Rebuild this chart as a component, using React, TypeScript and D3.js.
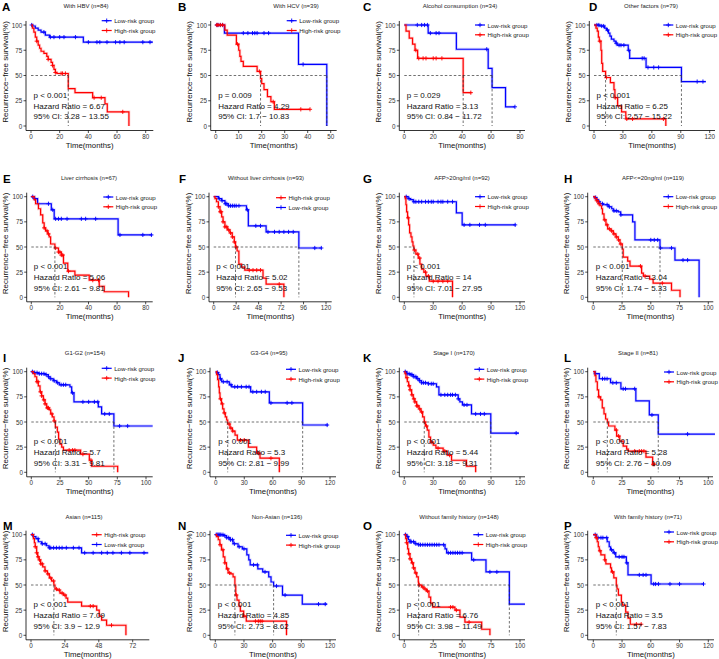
import * as d3 from 'd3';

type Step = [number, number];

const W = 719;
const H = 659;
const FONT = '"Liberation Sans", Arial, Helvetica, sans-serif';
const BLUE = '#0000FF';
const RED = '#FF0000';

// ---- data: survival steps [time(months), survival %] and censor times ----
const A_LOW: Step[] = [[0, 100], [1, 99], [3, 97], [5, 95], [7, 93], [10, 90], [13, 88], [36.5, 83], [85, 83]];
const A_LOW_C = [0.5, 9, 13.5, 16, 20, 23, 31, 40, 46, 48, 53, 59, 62, 65, 78, 83];
const A_HIGH: Step[] = [[0, 100], [1, 97], [2, 93], [3, 88], [4, 84], [5, 80], [6, 77], [7, 74], [9, 72], [11, 69], [12, 66], [14, 63], [15, 60], [16, 56], [17, 53], [18, 52], [26, 37], [30.7, 33], [43, 28], [51.6, 22], [53.2, 14], [68.3, 0]];
const A_HIGH_C = [4, 12, 15, 17, 21, 22, 24, 44, 49, 64];

const B_LOW: Step[] = [[0, 100], [3.8, 92], [36, 61], [48.3, 0]];
const B_LOW_C = [0.5, 1, 2, 3, 12, 14, 16, 17, 18, 21, 23, 38];
const B_HIGH: Step[] = [[0, 100], [4, 95], [5, 90], [9, 81], [10, 75], [10.5, 69], [11, 64], [12, 59], [18, 54], [19.5, 47], [20, 42], [21, 36], [22.5, 29], [24, 24], [25.5, 16.5], [41, 16.5]];
const B_HIGH_C = [0.5, 1, 2, 3, 9.5, 19, 25, 37, 41];

const C_LOW: Step[] = [[0, 100], [16.5, 92], [36, 76], [58, 57], [60.7, 38], [70, 19], [76.5, 19]];
const C_LOW_C = [9, 12, 14, 16, 18, 22, 24, 57, 76.5];
const C_HIGH: Step[] = [[0, 100], [1.2, 94], [3.4, 87], [5.7, 81], [7.4, 75], [9.2, 67], [40.7, 33], [46.4, 33]];
const C_HIGH_C = [8, 10, 13, 15, 20, 22, 26, 46];

const D_LOW: Step[] = [[0, 100], [6, 99], [11, 97], [13, 95], [15, 92], [16.5, 89], [18, 86], [20.7, 84], [22.7, 82], [24, 80], [35.5, 75], [37, 67], [54, 58], [90.7, 44], [116, 44]];
const D_LOW_C = [3, 5, 8, 10, 14, 23, 26, 28, 31, 36, 50, 52, 56, 62, 67, 107, 113];
const D_HIGH: Step[] = [[0, 100], [2, 97], [3.4, 94], [4.5, 88], [5.5, 84], [7.2, 75], [8, 62], [9, 54], [12, 48], [17, 43], [20.7, 36], [21.7, 28], [24.5, 20], [28.6, 14], [33, 7], [74.5, 0]];
const D_HIGH_C = [6, 13, 22, 34, 40, 72];

const E_LOW: Step[] = [[0, 100], [2, 98], [4.4, 93], [14, 87], [16, 78], [60.7, 62], [84.6, 62]];
const E_LOW_C = [1, 2.5, 12, 15, 17, 19, 21, 25, 35, 38, 45, 62, 78, 84];
const E_HIGH: Step[] = [[0, 100], [2, 97], [3, 93], [5, 88], [6.5, 82], [8, 74], [9, 69], [10, 66], [11.5, 63], [12.5, 60], [13.5, 53], [16.5, 49], [19, 45], [21, 42], [22.5, 34], [25.5, 26], [30.5, 22], [40.5, 17], [47.5, 11], [51, 5.5], [68, 0]];
const E_HIGH_C = [9, 11, 12, 17, 19, 20, 21, 22, 26, 43, 47];

const F_LOW: Step[] = [[0, 100], [5, 98], [8.5, 96], [12, 93], [15.5, 91], [35, 87], [37, 71], [56, 65], [91, 49], [115.5, 49]];
const F_LOW_C = [6, 9, 12.5, 14, 16, 18, 20, 22, 24, 27, 36, 45, 50, 58, 65, 70, 75, 80, 85, 108, 115];
const F_HIGH: Step[] = [[0, 100], [1.4, 98], [3, 95], [5, 90], [6.7, 85], [8.5, 80], [10, 75], [12, 70], [14.5, 67], [17.3, 64], [19.8, 60], [22, 55], [23.3, 50], [25, 46], [26.9, 33], [29.7, 30], [33.2, 27], [52.7, 19], [56, 13], [75, 0]];
const F_HIGH_C = [5, 7, 8, 10, 12, 14, 16, 18, 20, 22, 24, 38, 42, 46, 50, 70];

const G_LOW: Step[] = [[0, 100], [4, 98], [6.5, 97], [9.3, 95], [54, 84], [60, 72], [115.5, 72]];
const G_LOW_C = [2, 5, 10, 12, 15, 18, 22, 25, 28, 30, 35, 38, 40, 45, 50, 62, 68, 78, 84, 115];
const G_HIGH: Step[] = [[0, 100], [1, 98], [1.7, 92], [2.4, 85], [3.4, 79], [4.5, 72], [5.5, 64], [6.9, 60], [8, 55], [9, 51], [10, 47], [12, 43], [14.5, 39], [16.2, 33], [18, 28], [20.3, 25], [22.4, 21], [25.9, 16], [50, 0]];
const G_HIGH_C = [4, 10.5, 14, 16, 22, 25, 30, 35, 40, 45];

const H_LOW: Step[] = [[0, 100], [1.4, 99], [2.9, 97], [4.3, 95], [5.8, 93], [8.7, 92], [13, 90], [16, 88], [17.4, 86], [21.7, 85], [23.8, 82], [34.2, 75], [36.2, 57], [58, 49], [71, 37], [92, 0]];
const H_LOW_C = [2, 5, 8, 12, 14, 18, 20, 24, 50, 53, 56, 58.5, 68, 78, 82];
const H_HIGH: Step[] = [[0, 100], [1.4, 98], [3, 96], [4.3, 93], [5.8, 91], [7.2, 88], [8, 83], [9.3, 77], [11, 72], [12.5, 68], [15.4, 66], [17.4, 63], [19.7, 60], [21.7, 57], [23.2, 53], [25.2, 48], [26, 40], [29.9, 36], [31.9, 31], [42, 24], [43.5, 21], [49, 18], [52, 14], [68, 7], [75.4, 0]];
const H_HIGH_C = [3, 5, 10, 12, 14, 16, 18, 20, 22, 24, 41, 45, 60];

const I_LOW: Step[] = [[0, 100], [1.7, 99], [6, 98], [12, 97], [14.8, 95], [16.3, 93], [19.2, 91], [22, 89], [24.4, 87], [33.7, 85], [35.2, 79], [37.2, 70], [58.4, 65], [61.3, 58], [72, 46], [105.8, 46]];
const I_LOW_C = [1, 3, 5, 7, 9, 11, 13, 15, 17, 20, 23, 26, 28, 30, 36, 45, 50, 55, 58, 64, 68, 77, 84];
const I_HIGH: Step[] = [[0, 100], [1.7, 98], [3.2, 95], [4.7, 90], [6.1, 86], [7.6, 80], [9, 76], [10.5, 72], [12, 68], [13.4, 64], [15.7, 62], [16.9, 58], [18.3, 55], [19.8, 51], [21, 45], [22.7, 40], [23.8, 33], [25, 28], [26.5, 25], [28, 22], [43, 18], [50.6, 12], [52.6, 6], [75.3, 0]];
const I_HIGH_C = [5, 6, 8, 9, 11, 12, 14, 15, 18, 20, 33, 36, 38, 45, 52];

const J_LOW: Step[] = [[0, 100], [1, 99], [2.8, 97], [4.5, 93], [6.3, 90], [14.3, 87], [16.8, 85], [36.7, 80], [56.3, 69], [91.3, 47], [118, 47]];
const J_LOW_C = [2, 5, 8, 12, 16, 20, 23, 27, 32, 35, 39, 43, 48, 52, 58, 75, 80, 117];
const J_HIGH: Step[] = [[0, 100], [1, 97], [2, 92], [3.1, 85], [3.8, 79], [4.5, 73], [6, 68], [7.3, 63], [8.7, 59], [10.1, 55], [11.5, 52], [12.6, 48], [15, 44], [17.5, 41], [20.3, 37], [22.7, 32], [34.3, 25], [43, 19], [46.5, 14], [66.8, 0]];
const J_HIGH_C = [5, 7, 9, 14, 16, 18, 26, 30, 45, 58];

const K_LOW: Step[] = [[0, 100], [2.4, 98], [5.9, 97], [9.3, 95], [12.8, 93], [15.5, 91], [17.9, 89], [24.8, 88], [33.4, 85], [35.9, 77], [55.9, 73], [57.6, 70], [60.3, 67], [69.7, 58], [89.7, 39], [119, 39]];
const K_LOW_C = [1, 3, 5, 7, 8, 10, 12, 14, 16, 18, 20, 22, 25, 28, 30, 38, 42, 45, 48, 50, 53, 56, 62, 65, 74, 79, 83, 116];
const K_HIGH: Step[] = [[0, 100], [0.7, 98], [1.7, 94], [3.1, 90], [4.5, 86], [5.9, 82], [7.6, 77], [9.3, 73], [11, 70], [12.8, 66], [15.2, 63], [17.2, 60], [19, 55], [20.7, 50], [22, 46], [23.8, 42], [25.5, 35], [27.2, 30], [30, 27], [32.8, 24], [40.3, 21], [44.5, 17], [49, 12], [64.5, 6], [74, 0]];
const K_HIGH_C = [3, 5, 6, 8, 10, 11, 13, 14, 16, 18, 21, 23, 28, 35, 42, 47];

const L_LOW: Step[] = [[0, 100], [1.4, 98], [5.2, 93], [15, 89], [24, 83], [37, 71], [48.7, 57], [56.5, 38], [105.8, 38]];
const L_LOW_C = [2, 8, 10, 12, 17, 20, 26, 28, 36, 51, 82];
const L_HIGH: Step[] = [[0, 100], [1.4, 96], [2.3, 90], [3.5, 82], [4.6, 75], [6.4, 72], [7.8, 64], [9.3, 58], [10.7, 53], [12.2, 50], [13.3, 46], [18.8, 42], [20.3, 36], [23, 31], [26, 26], [29, 23], [30.4, 21], [45.8, 15], [51.6, 8], [53.6, 8]];
const L_HIGH_C = [5, 20, 22, 36, 40, 42, 44, 52, 53];

const M_LOW: Step[] = [[0, 100], [1.7, 98], [3.5, 96], [5.2, 93], [7.5, 91], [11, 89], [12.7, 87], [35.8, 82], [83, 82]];
const M_LOW_C = [1, 5, 8, 10, 13, 14, 16, 18, 20, 22, 25, 30, 34, 38, 44, 50, 54, 58, 64, 70, 80];
const M_HIGH: Step[] = [[0, 100], [1.7, 96], [2.4, 92], [3, 88], [4, 82], [4.7, 78], [5.7, 75], [6.8, 71], [8.3, 68], [9.9, 64], [11.6, 61], [13, 57], [14.6, 54], [16.2, 50], [17, 46], [18.6, 45], [20.5, 42], [22.9, 40], [24.8, 37], [26, 33], [35.8, 29], [46.5, 25], [48.3, 19], [50, 15], [53.5, 10], [67.2, 0]];
const M_HIGH_C = [3, 4, 5, 6, 7, 8, 10, 12, 14, 16, 18, 20, 22, 24, 42, 44, 57];

const N_LOW: Step[] = [[0, 100], [8.3, 99], [11.7, 97], [15.2, 95], [18.6, 91], [23.8, 88], [28.3, 86], [33, 80], [35, 75], [36.5, 70], [44.5, 66], [49.6, 63], [55.9, 58], [58.3, 53], [61, 49], [70.3, 40], [91, 31], [117, 31]];
const N_LOW_C = [1, 2, 3, 4, 5, 6, 8, 10, 12, 14, 16, 18, 20, 25, 30, 40, 44, 52, 64, 73, 108, 115];
const N_HIGH: Step[] = [[0, 100], [1.4, 98], [3.1, 95], [4.8, 90], [6.5, 85], [8.3, 78], [10, 72], [11.7, 66], [13.4, 62], [16.2, 61], [18.6, 58], [20.5, 50], [21.4, 40], [22.7, 35], [24.8, 29], [26.2, 24], [29.7, 19], [32.4, 14], [74.5, 0]];
const N_HIGH_C = [5, 8, 10, 13, 15, 22, 30, 42, 45, 47, 49];

const O_LOW: Step[] = [[0, 100], [2, 98], [3.5, 95], [4.9, 93], [9.2, 91], [12.1, 90], [35.2, 86], [36.6, 82], [58.2, 75], [70.6, 63], [90.8, 31], [104.3, 31]];
const O_LOW_C = [1, 3, 5, 6, 8, 10, 12.5, 14, 16, 18, 20, 22, 24, 26, 28, 30, 34, 38, 40, 42, 44, 46, 48, 50, 60, 74, 80];
const O_HIGH: Step[] = [[0, 100], [1.2, 96], [2, 92], [2.9, 86], [3.7, 81], [4.9, 76], [6.3, 72], [7.8, 67], [9.2, 62], [10.7, 58], [12.1, 53], [12.4, 50], [15, 48], [17, 46], [19.3, 44], [21.3, 38], [22.8, 32], [24.5, 28], [43.8, 25], [48.1, 18], [52.4, 13], [66.9, 6], [74, 0]];
const O_HIGH_C = [2, 4, 5, 7, 8, 10, 13, 16, 18, 20, 40, 42, 45, 56];

const P_LOW: Step[] = [[0, 100], [3.4, 97], [14.5, 93], [16.6, 88], [18, 85], [20.7, 82], [23.4, 78], [34.5, 72], [36.2, 60], [60.3, 51], [115.5, 51]];
const P_LOW_C = [2, 5, 8, 10, 14, 19, 22, 27, 30, 32, 35, 48, 52, 55, 63, 65, 68, 80, 90, 115];
const P_HIGH: Step[] = [[0, 100], [2.8, 97], [4.1, 93], [5.2, 88], [6.2, 84], [7.9, 80], [12, 75], [13.1, 71], [18, 67], [19, 63], [21.4, 57], [24, 50], [24.8, 46], [26.2, 40], [29.3, 33], [30.3, 30], [33.8, 23], [36.2, 17], [38.6, 11], [50, 11]];
const P_HIGH_C = [3, 7, 12, 20, 45, 50];

const LETTERS = ['A', 'B', 'C', 'D', 'E', 'F', 'G', 'H', 'I', 'J', 'K', 'L', 'M', 'N', 'O', 'P'];
const TITLES = [
  'With HBV (n=84)', 'With HCV (n=39)', 'Alcohol consumption (n=34)', 'Other factors (n=79)',
  'Liver cirrhosis (n=67)', 'Without liver cirrhosis (n=93)', 'AFP>20ng/ml (n=92)', 'AFP<=20ng/ml (n=119)',
  'G1-G2 (n=154)', 'G3-G4 (n=95)', 'Stage I (n=170)', 'Stage II (n=81)',
  'Asian (n=115)', 'Non-Asian (n=136)', 'Without family history (n=148)', 'With family history (n=71)',
];
const P_VALUES = ['p < 0.001', 'p = 0.009', 'p = 0.029', 'p < 0.001', 'p < 0.001', 'p < 0.001', 'p < 0.001', 'p < 0.001',
  'p < 0.001', 'p < 0.001', 'p < 0.001', 'p < 0.001', 'p < 0.001', 'p < 0.001', 'p < 0.001', 'p < 0.001'];
const HAZARD = ['6.67', '4.29', '3.13', '6.25', '5.06', '5.02', '14', '3.04', '5.7', '5.3', '5.44', '5.28', '7.09', '4.85', '6.76', '3.5'];
const CI = ['3.28 − 13.55', '1.7 − 10.83', '0.84 − 11.72', '2.57 − 15.22', '2.61 − 9.81', '2.65 − 9.53', '7.01 − 27.95', '1.74 − 5.33',
  '3.31 − 9.81', '2.81 − 9.99', '3.18 − 9.31', '2.76 − 10.09', '3.9 − 12.9', '2.73 − 8.62', '3.98 − 11.49', '1.57 − 7.83'];
const X_MAX = [80, 50, 80, 120, 80, 120, 120, 100, 100, 120, 120, 100, 72, 120, 100, 120];
const X_STEP = [20, 10, 20, 30, 20, 24, 30, 25, 25, 30, 30, 25, 24, 30, 25, 30];
const HIGH_FIRST = [false, false, false, false, false, true, false, false, false, false, false, false, true, false, false, false];

const LOWS = [A_LOW, B_LOW, C_LOW, D_LOW, E_LOW, F_LOW, G_LOW, H_LOW, I_LOW, J_LOW, K_LOW, L_LOW, M_LOW, N_LOW, O_LOW, P_LOW];
const LOWS_C = [A_LOW_C, B_LOW_C, C_LOW_C, D_LOW_C, E_LOW_C, F_LOW_C, G_LOW_C, H_LOW_C, I_LOW_C, J_LOW_C, K_LOW_C, L_LOW_C, M_LOW_C, N_LOW_C, O_LOW_C, P_LOW_C];
const HIGHS = [A_HIGH, B_HIGH, C_HIGH, D_HIGH, E_HIGH, F_HIGH, G_HIGH, H_HIGH, I_HIGH, J_HIGH, K_HIGH, L_HIGH, M_HIGH, N_HIGH, O_HIGH, P_HIGH];
const HIGHS_C = [A_HIGH_C, B_HIGH_C, C_HIGH_C, D_HIGH_C, E_HIGH_C, F_HIGH_C, G_HIGH_C, H_HIGH_C, I_HIGH_C, J_HIGH_C, K_HIGH_C, L_HIGH_C, M_HIGH_C, N_HIGH_C, O_HIGH_C, P_HIGH_C];

// ---- layout (pixels) ----
const ROW_TOP = [25, 196.7, 371.7, 534.7];     // y of 100%
const ROW_ZERO = [126, 297.3, 472.3, 635.3];   // y of 0%
const ROW_TITLE = [6, 177.7, 352.7, 517.3];
const ROW_LETTER = [10.5, 183, 362, 530];
// [y-axis x, x of t=0, x of last tick, right end of x axis]
const X_LAYOUT = [
  [26, 31, 145.7, 153.3], [210.7, 215.7, 330.7, 336.7], [399.3, 404.3, 520, 525], [589.3, 594, 709.7, 715],
  [26.7, 31.3, 145.7, 152.7], [209, 213.7, 326, 331.7], [399.3, 404.3, 520, 525], [587.7, 593.3, 708.3, 713.3],
  [26.7, 31.3, 146, 152.7], [210, 215.7, 330, 336], [399.3, 404.3, 520, 525], [587.7, 593.3, 708.3, 713],
  [26, 31, 132.7, 149.3], [210, 215.3, 330, 336], [399.3, 404.3, 520, 525], [587.7, 593.3, 708.3, 714],
];
const LETTER_X = [2, 178, 363, 589, 3, 179, 363, 564, 3, 178, 363, 564, 3, 178, 363, 564];
const TITLE_X = [86, 296, 460, 651, 89, 266, 462, 653, 85, 269, 454, 638, 84, 277, 459, 648];
const LEGEND_X = [101.7, 286.7, 475, 663.3, 103.3, 276, 475, 663.3, 101.7, 286, 474.3, 664, 91.7, 286, 473.3, 664];
const LEGEND_Y = [20.7, 20.7, 25, 25, 197, 197.7, 196.7, 196.7, 368.3, 369.3, 369.3, 372, 534.7, 535.3, 534.7, 532];

function survAt(steps: Step[], t: number) {
  let s = steps[0][1];
  for (const [ti, si] of steps) {
    if (ti <= t) s = si;
    else break;
  }
  return s;
}

function medianOf(steps: Step[]) {
  const hit = steps.find(d => d[1] <= 50);
  return hit ? hit[0] : null;
}

function Cross({ cx, cy, color, r = 2.1 }: { cx: number; cy: number; color: string; r?: number }) {
  return (
    <path d={`M${cx - r},${cy}H${cx + r}M${cx},${cy - r}V${cy + r}`} stroke={color} strokeWidth={0.9} fill="none" />
  );
}

function Panel({ i }: { i: number }) {
  const row = Math.floor(i / 4);
  const [axisX, x0, x1, axisRight] = X_LAYOUT[i];
  const yTop = ROW_TOP[row];
  const yZero = ROW_ZERO[row];
  const x = d3.scaleLinear().domain([0, X_MAX[i]]).range([x0, x1]);
  const y = d3.scaleLinear().domain([0, 100]).range([yZero, yTop]);
  const axisY = yZero + 4.5;
  const line = d3.line<Step>().x(d => x(d[0])).y(d => y(d[1])).curve(d3.curveStepAfter);
  const xTicks = d3.range(0, X_MAX[i] + 0.001, X_STEP[i]);
  const yTicks = [0, 25, 50, 75, 100];

  const groups = [
    { name: 'Low-risk group', color: BLUE, steps: LOWS[i], cens: LOWS_C[i] },
    { name: 'High-risk group', color: RED, steps: HIGHS[i], cens: HIGHS_C[i] },
  ];
  const legend = HIGH_FIRST[i] ? [groups[1], groups[0]] : groups;
  const medians = groups.map(g => medianOf(g.steps)).filter((m): m is number => m !== null);
  const maxMed = medians.length ? Math.max(...medians) : null;
  const stats = [P_VALUES[i], `Hazard Ratio = ${HAZARD[i]}`, `95% CI: ${CI[i]}`];
  const statY = [-30.8, -20, -9.3];

  return (
    <g>
      <text x={LETTER_X[i]} y={ROW_LETTER[row]} fontSize={11.5} fontWeight="bold" fill="#000">{LETTERS[i]}</text>
      <text x={TITLE_X[i]} y={ROW_TITLE[row]} fontSize={6} textAnchor="middle" dominantBaseline="central" fill="#222">{TITLES[i]}</text>

      {/* curves */}
      {groups.map(g => (
        <g key={g.name}>
          <path d={line(g.steps) ?? ''} fill="none" stroke={g.color} strokeWidth={2.8} strokeOpacity={0.18} />
          <path d={line(g.steps) ?? ''} fill="none" stroke={g.color} strokeWidth={1.2} />
          {g.cens.map((t, k) => (
            <Cross key={k} cx={x(t)} cy={y(survAt(g.steps, t))} color={g.color} />
          ))}
        </g>
      ))}

      {/* median lines */}
      {maxMed !== null && (
        <g stroke="#333" strokeWidth={0.7} strokeDasharray="2.5,2" fill="none">
          <line x1={x(0)} x2={x(maxMed)} y1={y(50)} y2={y(50)} />
          {medians.map((m, k) => (
            <line key={k} x1={x(m)} x2={x(m)} y1={y(50)} y2={y(0)} />
          ))}
        </g>
      )}

      {/* axes */}
      <line x1={axisX} x2={axisX} y1={y(104)} y2={axisY} stroke="#000" strokeWidth={0.8} />
      <line x1={axisX} x2={axisRight} y1={axisY} y2={axisY} stroke="#000" strokeWidth={0.8} />
      {yTicks.map(v => (
        <g key={v}>
          <line x1={axisX - 2.5} x2={axisX} y1={y(v)} y2={y(v)} stroke="#000" strokeWidth={0.7} />
          <text x={axisX - 3.8} y={y(v)} fontSize={6.3} textAnchor="end" dominantBaseline="central" fill="#333">{v}</text>
        </g>
      ))}
      {xTicks.map(v => (
        <g key={v}>
          <line x1={x(v)} x2={x(v)} y1={axisY} y2={axisY + 2.5} stroke="#000" strokeWidth={0.7} />
          <text x={x(v)} y={axisY + 8.5} fontSize={6.3} textAnchor="middle" fill="#333">{v}</text>
        </g>
      ))}
      <text x={(axisX + axisRight) / 2} y={axisY + 17.5} fontSize={7.8} textAnchor="middle" fill="#111">Time(months)</text>
      <text
        transform={`translate(${axisX - 21},${(yTop + yZero) / 2 - 3.5}) rotate(-90)`}
        fontSize={8} textAnchor="middle" dominantBaseline="central" fill="#111"
      >Recurrence−free survival(%)</text>

      {/* annotations */}
      {stats.map((s, k) => (
        <text key={k} x={x0 + 2.5} y={yZero + statY[k]} fontSize={8} dominantBaseline="central" fill="#111">{s}</text>
      ))}

      {/* legend */}
      {legend.map((g, k) => {
        const ly = LEGEND_Y[i] + k * 9.8;
        const lx = LEGEND_X[i];
        return (
          <g key={g.name}>
            <line x1={lx} x2={lx + 10} y1={ly} y2={ly} stroke={g.color} strokeWidth={1.2} />
            <Cross cx={lx + 5} cy={ly} color={g.color} r={2.2} />
            <text x={lx + 12.5} y={ly} fontSize={6.1} dominantBaseline="central" fill="#222">{g.name}</text>
          </g>
        );
      })}
    </g>
  );
}

export default function App() {
  return (
    <svg
      width={W}
      height={H}
      viewBox={`0 0 ${W} ${H}`}
      style={{ position: 'absolute', left: 0, top: 0, background: '#fff', fontFamily: FONT }}
    >
      <rect width={W} height={H} fill="#fff" />
      {LETTERS.map((_, i) => <Panel key={i} i={i} />)}
    </svg>
  );
}
